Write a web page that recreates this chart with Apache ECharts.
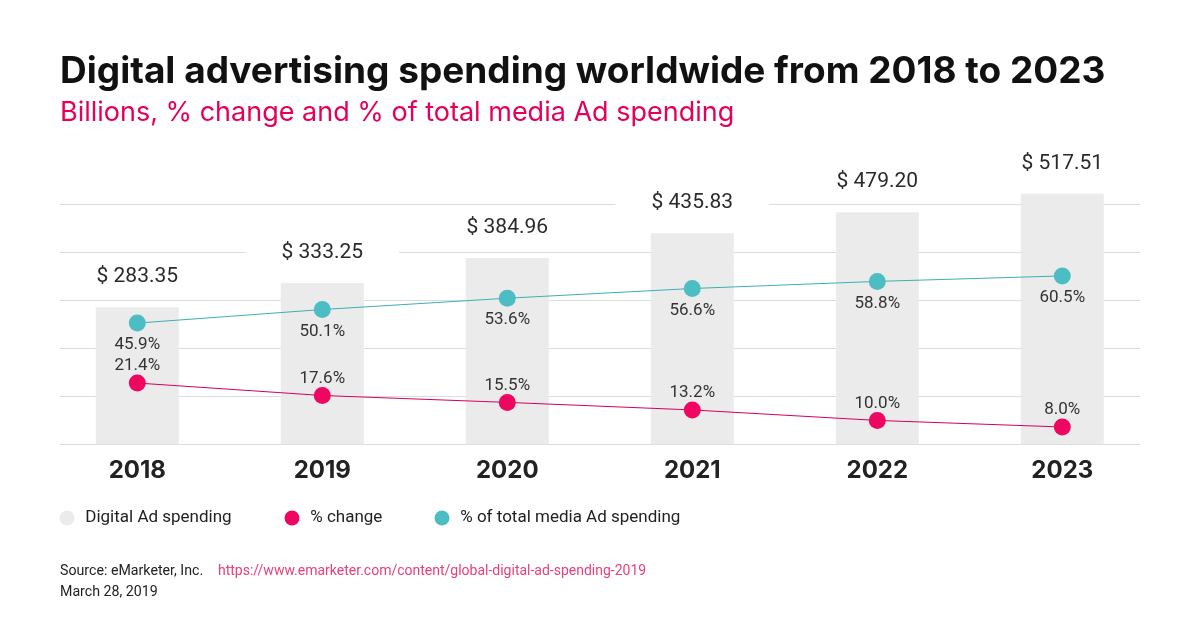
<!DOCTYPE html>
<html>
<head>
<meta charset="utf-8">
<script src="https://cdn.jsdelivr.net/npm/echarts@6/dist/echarts.min.js"></script>
<style>
html,body{margin:0;padding:0;background:#fff;}
#chart{width:1200px;height:630px;}
</style>
</head>
<body>
<div id="chart"></div>
<script>
// ---- data ----
const years = ['2018', '2019', '2020', '2021', '2022', '2023'];
const adSpending = [283.35, 333.25, 384.96, 435.83, 479.20, 517.51];
const pctChange = [21.4, 17.6, 15.5, 13.2, 10.0, 8.0];
const pctOfTotal = [45.9, 50.1, 53.6, 56.6, 58.8, 60.5];
const gridTicks = [0, 100, 200, 300, 400, 500];

const FONT = 'Inter, Roboto, sans-serif';
const PINK = '#EE0660';
const TEAL = '#4CBDC2';
const GRAY = '#EBEBEB';

const chart = echarts.init(document.getElementById('chart'), null, {renderer: 'canvas'});

const legendCommon = {padding: 0, icon: 'circle', itemWidth: 26.5, itemHeight: 15, top: 509.5,
  textStyle: {fontFamily: 'Roboto', fontSize: 17, color: '#222'}};

const option = {
  backgroundColor: '#ffffff',
  animation: false,
  textStyle: {fontFamily: FONT},
  title: [
    {text: 'Digital advertising spending worldwide from 2018 to 2023', left: 60, top: 51.5, padding: 0,
     textStyle: {fontFamily: FONT, fontSize: 37, fontWeight: 'bold', color: '#111', lineHeight: 40}},
    {text: 'Billions, % change and % of total media Ad spending', left: 60, top: 97.5, padding: 0,
     textStyle: {fontFamily: FONT, fontSize: 27, fontWeight: 'normal', color: '#E6005C', lineHeight: 30}},
    {text: 'Source: eMarketer, Inc.', left: 60, top: 563.5, padding: 0,
     textStyle: {fontFamily: 'Roboto', fontSize: 14.2, fontWeight: 'normal', color: '#222', lineHeight: 16}},
    {text: 'https://www.emarketer.com/content/global-digital-ad-spending-2019', left: 218, top: 563.5, padding: 0,
     textStyle: {fontFamily: 'Roboto', fontSize: 14, fontWeight: 'normal', color: '#E8407A', lineHeight: 16}},
    {text: 'March 28, 2019', left: 60, top: 584, padding: 0,
     textStyle: {fontFamily: 'Roboto', fontSize: 14.2, fontWeight: 'normal', color: '#222', lineHeight: 16}}
  ],
  legend: [
    Object.assign({data: ['Digital Ad spending'], left: 59.5}, legendCommon),
    Object.assign({data: ['% change'], left: 284.5}, legendCommon),
    Object.assign({data: ['% of total media Ad spending'], left: 434.5}, legendCommon)
  ],
  grid: [
    // gridline grid
    {left: 60, right: 60, top: 204.3, bottom: 185.7, containLabel: false},
    // data grid
    {left: 44.8, right: 45.2, top: 153.9, bottom: 185.7, containLabel: false}
  ],
  xAxis: [
    {gridIndex: 0, type: 'value', show: false, min: 0, max: 1},
    {gridIndex: 1, type: 'category', data: years, boundaryGap: true,
     axisLine: {show: false}, axisTick: {show: false}, splitLine: {show: false},
     axisLabel: {margin: 14.5, fontFamily: FONT, fontSize: 24, fontWeight: 'bold', color: '#222'}}
  ],
  yAxis: [
    {gridIndex: 0, type: 'value', min: gridTicks[0], max: gridTicks[gridTicks.length - 1], interval: 100,
     axisLine: {show: false}, axisTick: {show: false}, axisLabel: {show: false},
     splitLine: {show: true, lineStyle: {color: '#DCDCDC', width: 1}}},
    {gridIndex: 1, type: 'value', min: 0, max: 600, show: false, splitLine: {show: false}},
    {gridIndex: 1, type: 'value', min: 8.4, max: 98.25, show: false, splitLine: {show: false}},
    {gridIndex: 1, type: 'value', min: 2.73, max: 91.24, show: false, splitLine: {show: false}}
  ],
  series: [
    {name: 'Digital Ad spending', type: 'bar', xAxisIndex: 1, yAxisIndex: 1, data: adSpending,
     barWidth: 83, itemStyle: {color: GRAY}, z: 3,
     label: {show: true, position: 'top', distance: 16, formatter: p => '$ ' + p.value.toFixed(2),
       fontFamily: 'Roboto', fontSize: 21, color: '#2a2a2a', backgroundColor: '#ffffff', padding: [4, 36]}},
    {name: '% of total media Ad spending', type: 'line', xAxisIndex: 1, yAxisIndex: 2, data: pctOfTotal,
     symbol: 'circle', symbolSize: 17, z: 5,
     itemStyle: {color: TEAL}, lineStyle: {color: '#3FAEB3', width: 1},
     label: {show: true, position: 'bottom', distance: 5, formatter: p => p.value.toFixed(1) + '%',
       fontFamily: 'Roboto', fontSize: 17, color: '#333'}},
    {name: '% change', type: 'line', xAxisIndex: 1, yAxisIndex: 3, data: pctChange,
     symbol: 'circle', symbolSize: 17, z: 5,
     itemStyle: {color: PINK}, lineStyle: {color: '#D4005E', width: 1},
     label: {show: true, position: 'top', distance: 0, formatter: p => p.value.toFixed(1) + '%',
       fontFamily: 'Roboto', fontSize: 17, color: '#333'}}
  ]
};
chart.setOption(option);
</script>
</body>
</html>
